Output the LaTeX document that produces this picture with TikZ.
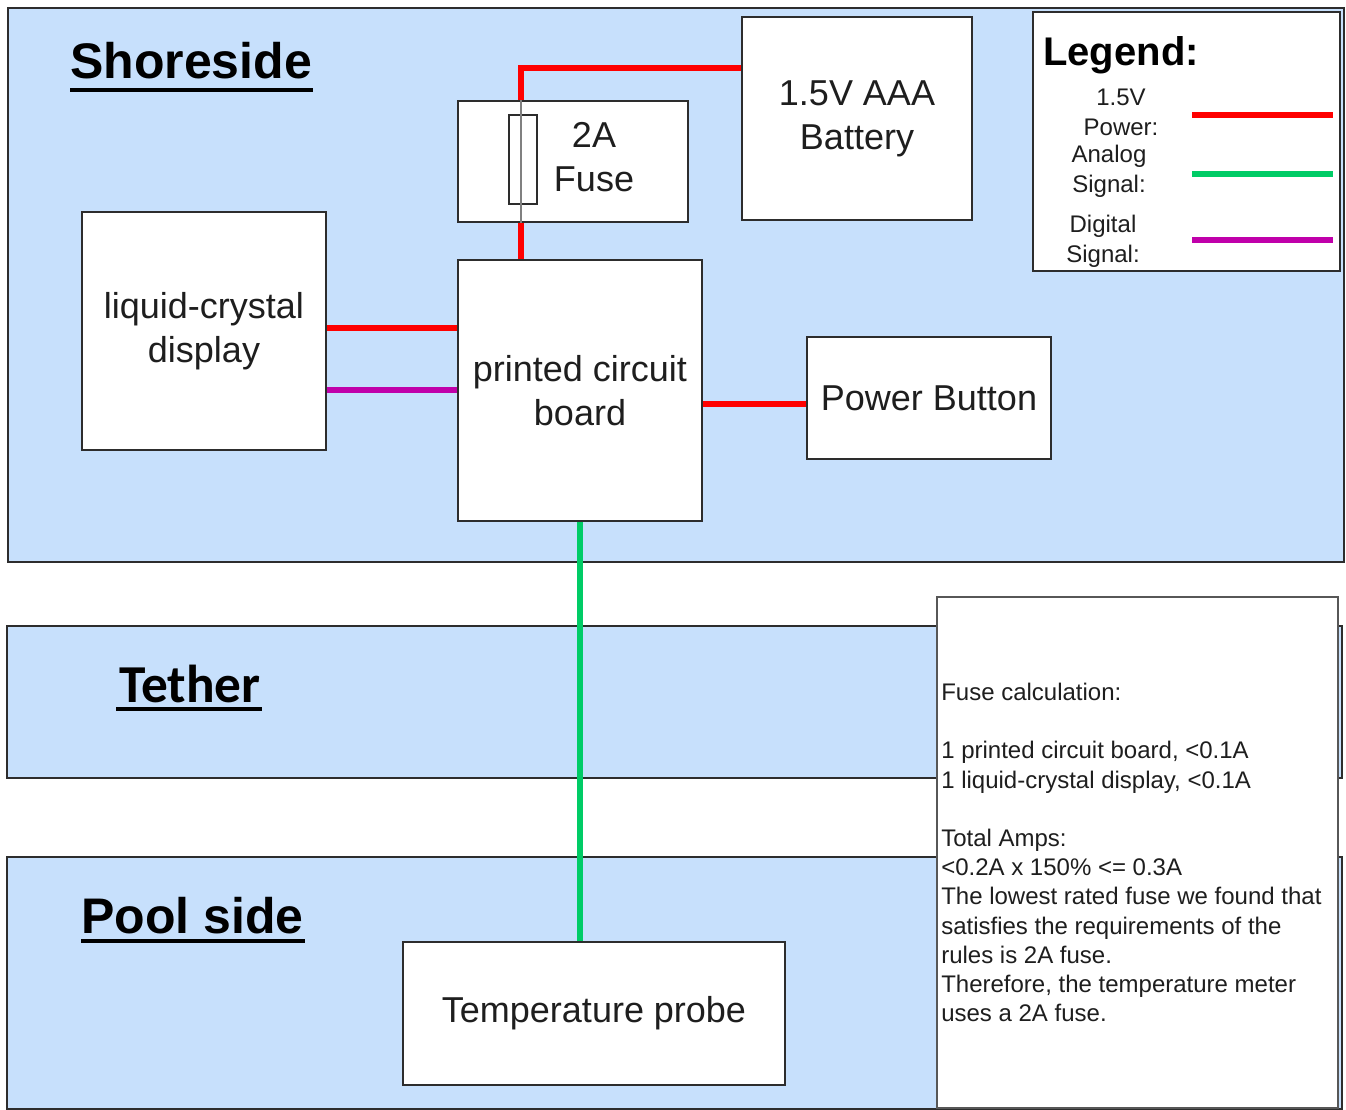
\documentclass[tikz,border=0pt]{standalone}
\usepackage{fontspec}
\setmainfont{Liberation Sans}
\newfontfamily\calibri{Carlito}
\usetikzlibrary{calc}
\definecolor{regionfill}{RGB}{199,224,252}
\definecolor{edge}{RGB}{45,45,45}
\definecolor{wirered}{RGB}{255,0,0}
\definecolor{wiregreen}{RGB}{0,204,102}
\definecolor{wirepurple}{RGB}{192,0,170}
\definecolor{txt}{RGB}{30,30,30}
\tikzset{
  region/.style={draw=edge, line width=1.4pt, fill=regionfill, inner sep=0pt},
  block/.style={draw=edge, line width=1.4pt, fill=white, inner sep=0pt, align=center,
    text=txt, font=\fontsize{27}{33}\selectfont},
  power/.style={draw=wirered, line width=4.5pt},
  analog/.style={draw=wiregreen, line width=4.5pt},
  digital/.style={draw=wirepurple, line width=4.5pt},
  legline/.style={line width=5pt},
  heading/.style={inner sep=0pt, text=black},
  smalltxt/.style={inner sep=0pt, text=txt, font=\fontsize{18}{22.5}\selectfont},
}
\begin{document}
\begin{tikzpicture}[x=0.75pt, y=-0.75pt]
\useasboundingbox (0,0) rectangle (1346,1110);
\fill[white] (0,0) rectangle (1346,1110);

% regions
\node[region, minimum width=1002pt, minimum height=415.5pt] (shore) at (676,285) {};
\node[region, minimum width=1001.25pt, minimum height=114pt] (tether) at (674.5,702) {};
\node[region, minimum width=1001.25pt, minimum height=189pt] (pool) at (674.5,983) {};

% headings
\node[heading, anchor=base west, font=\fontsize{37.5}{40}\selectfont\bfseries] (hshore) at (70,78) {Shoreside};
\draw[line width=2.6pt] ($(hshore.base west)+(0,12)$) -- ($(hshore.base east)+(1,12)$);
\node[heading, anchor=base west, font=\fontsize{40}{44}\calibri\bfseries] (hteth) at (119,702) {Tether};
\draw[line width=2.4pt] ($(hteth.base west)+(-3,7)$) -- ($(hteth.base east)+(1,7)$);
\node[heading, anchor=base west, font=\fontsize{37.5}{40}\selectfont\bfseries] (hpool) at (81,933) {Pool side};
\draw[line width=2.6pt] ($(hpool.base west)+(0,8)$) -- ($(hpool.base east)+(1,8)$);

% blocks
\coordinate (bend) at (521,68);
\node[block, minimum width=183pt, minimum height=195.75pt] (pcb) at (580,390.5) {printed circuit\\board};
\node[block, minimum width=183pt, minimum height=178.5pt] (lcd) at (204,331) {liquid-crystal\\display};
\node[block, minimum width=172.5pt, minimum height=152.25pt] (bat) at (857,118.5) {1.5V AAA\\Battery};
\node[block, minimum width=183pt, minimum height=91.5pt] (pb) at (929,398) {Power Button};
\node[block, minimum width=286.5pt, minimum height=107.25pt] (probe) at (594,1013.5) {Temperature probe};

% wire end points on the block borders
\coordinate (lcdP) at ($(lcd.east)+(0,-3)$);
\coordinate (lcdD) at ($(lcd.east)+(0,59)$);
\coordinate (pcbP) at ($(pcb.east)+(0,13.5)$);

% wires
\draw[power] (pcb.north -| bend) -- (bend) -- (bat.west |- bend);
\draw[power] (lcdP) -- (lcdP -| pcb.west);
\draw[digital] (lcdD) -- (lcdD -| pcb.west);
\draw[power] (pcbP) -- (pcbP -| pb.west);
\draw[analog] (pcb.south) -- (probe.north -| pcb.south);

% fuse
\node[block, minimum width=172.5pt, minimum height=90.75pt] (fuse) at (573,161.5) {};
\node[inner sep=0pt, align=center, text=txt, font=\fontsize{27}{33}\selectfont] (fuselbl) at (594,157) {2A\\Fuse};
\node[draw=edge, line width=0.9pt, minimum width=21pt, minimum height=66.75pt, inner sep=0pt] (fsym) at (523,159.5) {};
\draw[gray, line width=1.1pt] (fuse.north -| bend) -- (fuse.south -| bend);

% legend
\node[draw=edge, line width=1.4pt, fill=white, minimum width=230.25pt, minimum height=194.25pt, inner sep=0pt] (legend) at (1186.5,141.5) {};
\node[heading, anchor=base west, font=\fontsize{30}{34}\selectfont\bfseries] (legtitle) at (1043,65) {Legend:};
\node[smalltxt, align=center] (legp) at (1121,112) {1.5V\\Power:};
\node[smalltxt, align=center] (lega) at (1109,171) {Analog\\Signal:};
\node[smalltxt, align=center] (legd) at (1103,241) {Digital\\Signal:};
\coordinate (lp1) at (1192,115); \coordinate (lp2) at (1333,115);
\coordinate (la1) at (1192,174); \coordinate (la2) at (1333,174);
\coordinate (ld1) at (1192,240); \coordinate (ld2) at (1333,240);
\draw[legline, wirered] (lp1) -- (lp2);
\draw[legline, wiregreen] (la1) -- (la2);
\draw[legline, wirepurple] (ld1) -- (ld2);

% calculation text box
\node[draw=edge!80, line width=1.2pt, fill=white, minimum width=300.75pt, minimum height=383.25pt, inner sep=0pt] (calc) at (1137.5,852.5) {};
\node[smalltxt, font=\fontsize{18}{21.9}\selectfont, align=left, anchor=west] (calctxt) at (941,852.5) {Fuse calculation:\\[21.9pt]1 printed circuit board, <0.1A\\1 liquid-crystal display, <0.1A\\[21.9pt]Total Amps:\\<0.2A x 150\% <= 0.3A\\The lowest rated fuse we found that\\satisfies the requirements of the\\rules is 2A fuse.\\Therefore, the temperature meter\\uses a 2A fuse.};
\end{tikzpicture}
\end{document}
